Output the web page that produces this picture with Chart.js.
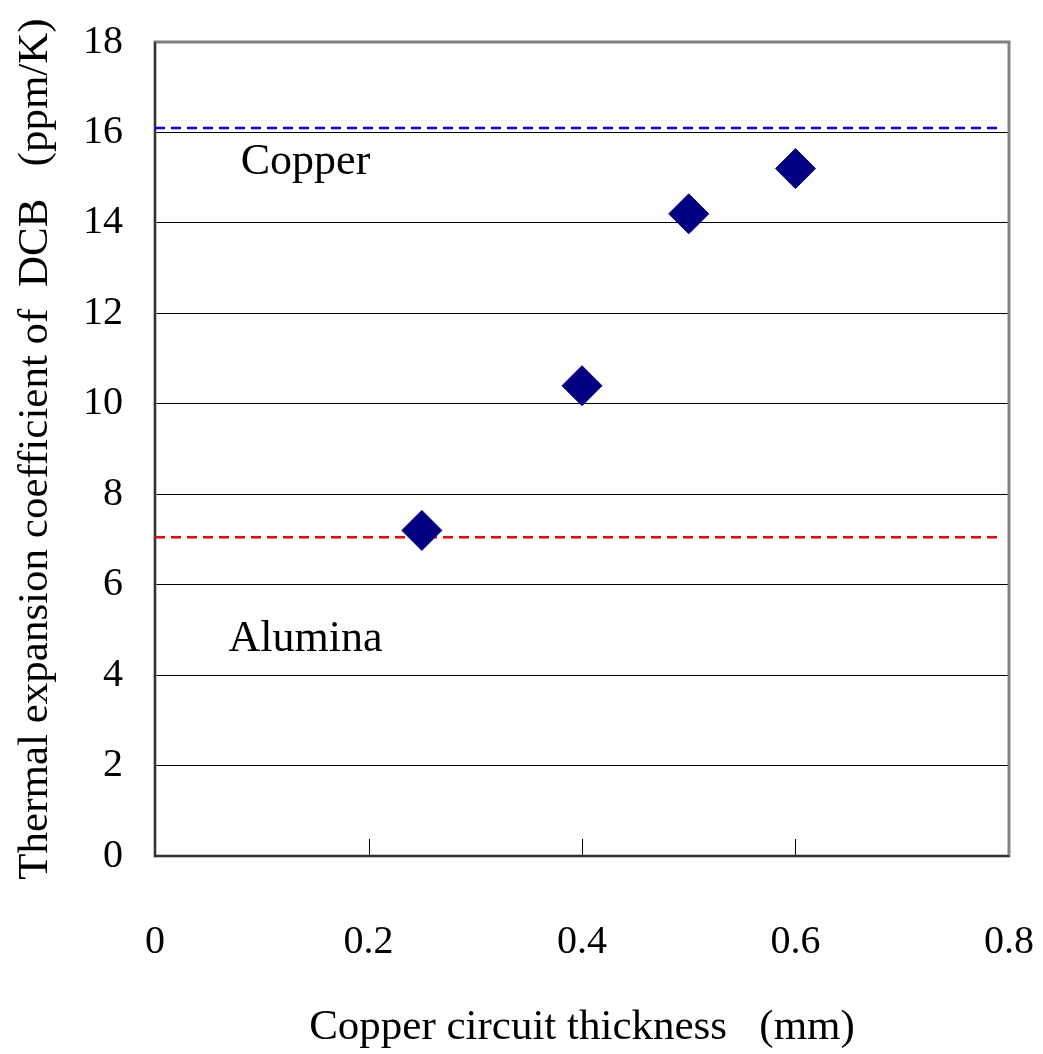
<!DOCTYPE html>
<html>
<head>
<meta charset="utf-8">
<script src="https://cdn.jsdelivr.net/npm/chart.js@4"></script>
<style>
  body { margin: 0; background: #fff; }
</style>
</head>
<body>
<canvas id="cteChart" width="1043" height="1054"></canvas>
<script>
// measured points
const thickness = [0.25, 0.4, 0.5, 0.6];
const cte = [7.2, 10.4, 14.2, 15.2];

// reference levels
const copperCte = 16.1;
const aluminaCte = 7.05;
const refLineX = [0, 0.79];

const xTicks = [0, 0.2, 0.4, 0.6, 0.8];
const yTicks = [0, 2, 4, 6, 8, 10, 12, 14, 16, 18];

const serif = '"Liberation Serif", "Times New Roman", serif';

// frame, inner x ticks and text labels
const extras = {
  id: 'extras',
  beforeDatasetsDraw(chart) {
    const { ctx, chartArea: a, scales } = chart;
    ctx.save();
    ctx.strokeStyle = '#000';
    ctx.lineWidth = 1;
    xTicks.slice(1, -1).forEach(v => {
      const px = Math.round(scales.x.getPixelForValue(v)) + 0.5;
      ctx.beginPath();
      ctx.moveTo(px, a.bottom);
      ctx.lineTo(px, a.bottom - 17);
      ctx.stroke();
    });
    ctx.strokeStyle = '#808080';
    ctx.lineWidth = 3;
    ctx.strokeRect(a.left, a.top, a.right - a.left, a.bottom - a.top);
    ctx.strokeStyle = '#333';
    ctx.lineWidth = 2;
    ctx.beginPath();
    ctx.moveTo(a.left, a.top);
    ctx.lineTo(a.left, a.bottom);
    ctx.lineTo(a.right, a.bottom);
    ctx.stroke();

    ctx.fillStyle = '#000';
    ctx.font = '44px ' + serif;
    ctx.textAlign = 'center';
    ctx.textBaseline = 'middle';
    ctx.fillText('Copper', scales.x.getPixelForValue(0.141), scales.y.getPixelForValue(15.33));
    ctx.fillText('Alumina', scales.x.getPixelForValue(0.141), scales.y.getPixelForValue(4.78));
    ctx.restore();
  }
};

new Chart(document.getElementById('cteChart').getContext('2d'), {
  type: 'scatter',
  data: {
    datasets: [{
      label: 'DCB',
      data: thickness.map((t, i) => ({ x: t, y: cte[i] })),
      pointStyle: 'rectRot',
      pointRadius: 20,
      pointHoverRadius: 20,
      backgroundColor: '#000080',
      borderColor: '#000080',
      borderWidth: 1
    }, {
      label: 'Copper',
      data: refLineX.map(x => ({ x: x, y: copperCte })),
      showLine: true,
      pointRadius: 0,
      borderColor: '#0000ff',
      borderWidth: 2.5,
      borderDash: [10, 6]
    }, {
      label: 'Alumina',
      data: refLineX.map(x => ({ x: x, y: aluminaCte })),
      showLine: true,
      pointRadius: 0,
      borderColor: '#ff0000',
      borderWidth: 2.5,
      borderDash: [10, 6]
    }]
  },
  options: {
    responsive: false,
    animation: false,
    layout: { padding: { top: 42, right: 34, left: 10, bottom: 0 } },
    plugins: {
      legend: { display: false },
      tooltip: { enabled: false }
    },
    scales: {
      x: {
        type: 'linear',
        min: 0,
        max: 0.8,
        afterBuildTicks: s => { s.ticks = xTicks.map(v => ({ value: v })); },
        afterFit: s => { s.height = 198; s.paddingLeft = 0; s.paddingRight = 0; },
        grid: { display: false, drawTicks: false },
        border: { display: false },
        ticks: {
          padding: 62,
          color: '#000',
          font: { family: serif, size: 40 },
          maxRotation: 0,
          callback: v => String(v)
        },
        title: {
          display: true,
          text: 'Copper circuit thickness   (mm)',
          color: '#000',
          font: { family: serif, size: 43 },
          padding: { top: 0, bottom: 0 }
        }
      },
      y: {
        type: 'linear',
        min: 0,
        max: 18,
        afterBuildTicks: s => { s.ticks = yTicks.map(v => ({ value: v })); },
        afterFit: s => { s.width = 145; s.paddingTop = 0; s.paddingBottom = 0; },
        grid: {
          drawTicks: false,
          color: ctx => (ctx.tick.value === 0 || ctx.tick.value === 18) ? 'rgba(0,0,0,0)' : '#000',
          lineWidth: 1
        },
        border: { display: false },
        ticks: {
          padding: 32,
          color: '#000',
          font: { family: serif, size: 40 }
        },
        title: {
          display: true,
          text: 'Thermal expansion coefficient of  DCB   (ppm/K)',
          color: '#000',
          font: { family: serif, size: 43 },
          padding: { top: 0, bottom: 0 }
        }
      }
    }
  },
  plugins: [extras]
});
</script>
</body>
</html>
